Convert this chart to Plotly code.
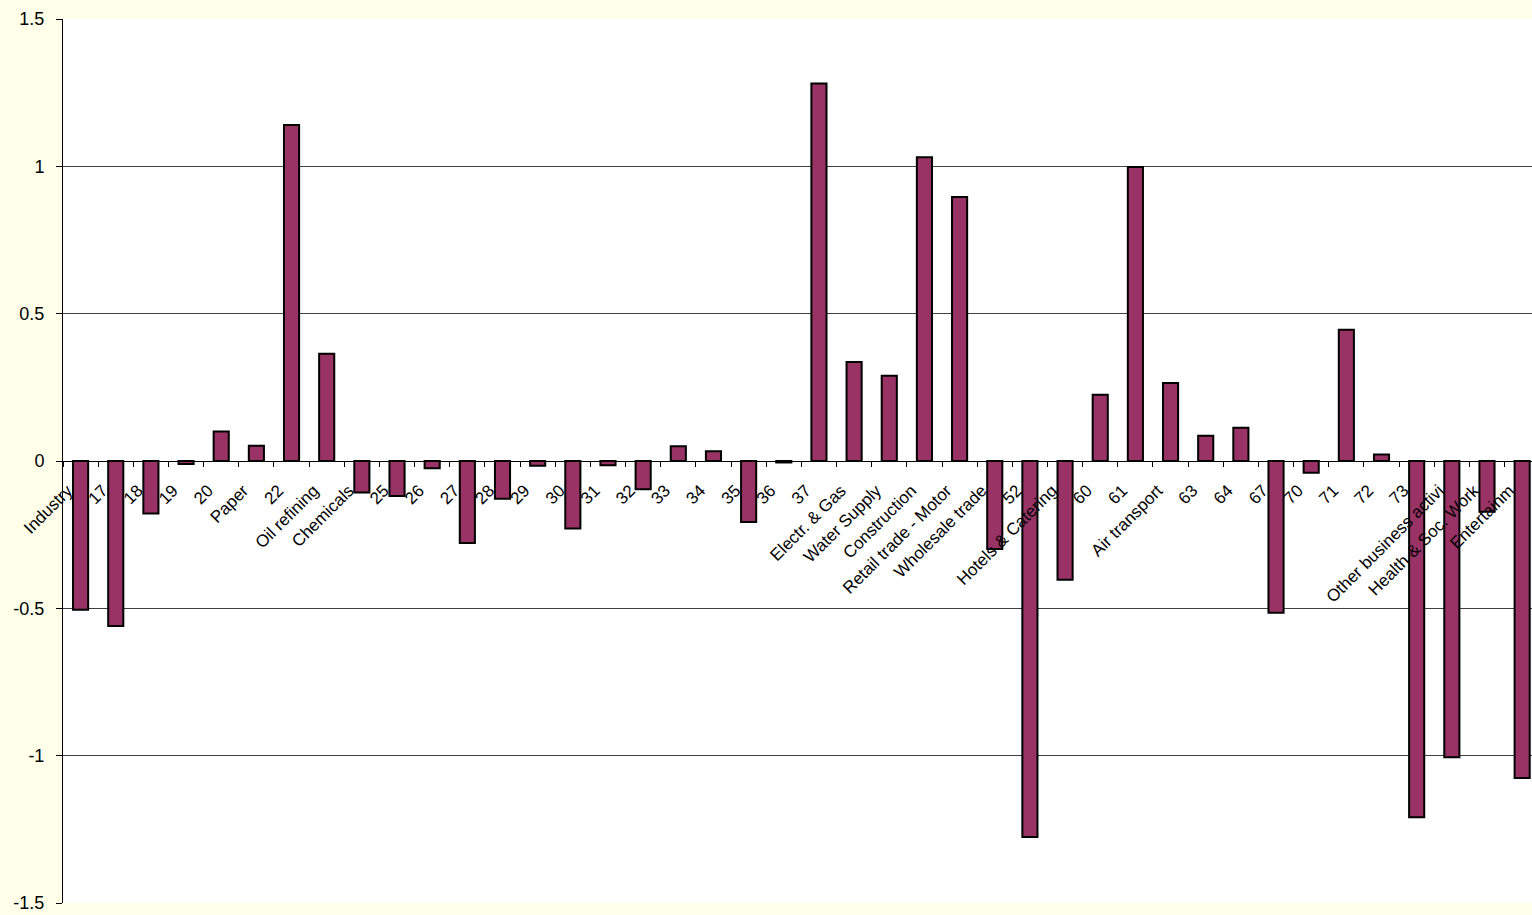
import plotly.graph_objects as go

categories = ["Industry", "17", "18", "19", "20", "Paper", "22", "Oil refining", "Chemicals",
              "25", "26", "27", "28", "29", "30", "31", "32", "33", "34", "35", "36", "37",
              "Electr. & Gas", "Water Supply", "Construction", "Retail trade - Motor",
              "Wholesale trade", "52", "Hotels & Catering", "60", "61", "Air transport",
              "63", "64", "67", "70", "71", "72", "73", "Other business activi",
              "Health & Soc. Work", "Entertainm"]

values = [-0.505, -0.56, -0.178, -0.01, 0.10, 0.052, 1.14, 0.364, -0.107,
          -0.119, -0.025, -0.278, -0.128, -0.016, -0.229, -0.014, -0.096, 0.05, 0.033, -0.207, -0.005, 1.281,
          0.336, 0.289, 1.031, 0.896,
          -0.299, -1.276, -0.403, 0.225, 0.998, 0.265,
          0.086, 0.113, -0.515, -0.040, 0.445, 0.022, -1.209, -1.005,
          -0.172, -1.076]

y_tickvals = [-1.5, -1, -0.5, 0, 0.5, 1, 1.5]
y_ticktext = ["-1.5", "-1", "-0.5", "0", "0.5", "1", "1.5"]

FONT = "Arial, 'Liberation Sans', sans-serif"

fig = go.Figure()
fig.add_trace(go.Bar(
    x=categories,
    y=values,
    width=0.43,
    marker=dict(color="#993366", line=dict(color="#000000", width=2)),
    showlegend=False,
))

fig.update_layout(
    width=1532,
    height=915,
    margin=dict(l=63, r=0, t=19, b=12),
    paper_bgcolor="#FFFFEA",
    plot_bgcolor="#FFFFFF",
    font=dict(family=FONT, color="#000000"),
    xaxis=dict(
        type="category",
        anchor="free",
        position=0.5,
        showline=True,
        linecolor="#000000",
        linewidth=1,
        ticks="outside",
        tickson="boundaries",
        ticklen=5,
        tickcolor="#000000",
        tickangle=-45,
        ticklabelshift=-13,
        ticklabelstandoff=12,
        tickfont=dict(size=17, family=FONT, color="#000000"),
        showgrid=False,
        range=[-0.5, 41.28],
    ),
    yaxis=dict(
        range=[-1.5, 1.5],
        tickvals=y_tickvals,
        ticktext=y_ticktext,
        showline=True,
        linecolor="#000000",
        linewidth=1,
        ticks="outside",
        ticklen=6,
        tickcolor="#000000",
        ticklabelstandoff=8,
        tickfont=dict(size=18, family=FONT, color="#000000"),
        showgrid=True,
        gridcolor="#404040",
        gridwidth=1,
        zeroline=False,
    ),
)

fig.write_html("out.html")
